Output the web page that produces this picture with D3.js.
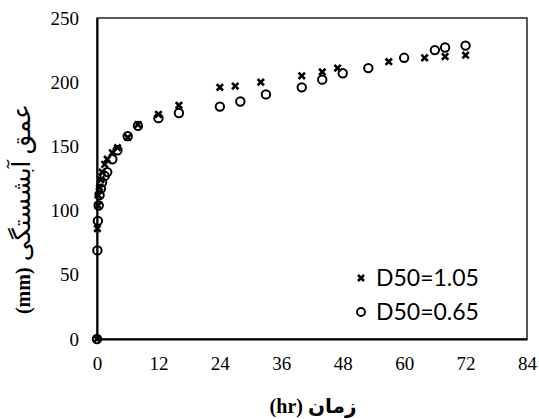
<!DOCTYPE html>
<html>
<head>
<meta charset="utf-8">
<script src="https://cdn.jsdelivr.net/npm/d3@7/dist/d3.min.js"></script>
<style>
  body { margin: 0; background: #fff; }
  svg { display: block; }
</style>
</head>
<body>
<svg id="chart" width="539" height="419"></svg>
<script>
// D50=1.05 (cross markers)
const timeA = [0, 0.08, 0.17, 0.25, 0.5, 0.75, 1, 1.5, 2, 3, 4, 6, 8, 12, 16, 24, 27, 32, 40, 44, 47, 57, 64, 68, 72];
const depthA = [0, 86, 104, 112, 118, 124, 130, 136, 140, 145, 149, 157, 167, 175, 182, 196, 197, 200, 205, 208, 211, 216, 219, 220, 221];
// D50=0.65 (circle markers)
const timeB = [0, 0.08, 0.17, 0.33, 0.5, 0.75, 1, 1.5, 2, 3, 4, 6, 8, 12, 16, 24, 28, 33, 40, 44, 48, 53, 60, 66, 68, 72];
const depthB = [0, 69, 92, 104, 112, 117, 122, 127, 130, 140, 147, 158, 166, 172, 176, 181, 185, 190.5, 196, 202, 207, 211, 219, 225, 227, 228.5];

const xTicks = [0, 12, 24, 36, 48, 60, 72, 84];
const yTicks = [0, 50, 100, 150, 200, 250];
const seriesNames = ["D50=1.05", "D50=0.65"];

const svg = d3.select("#chart");
const m = { left: 97, right: 527, top: 18, bottom: 339 };

const x = d3.scaleLinear().domain([0, 84]).range([m.left, m.right]);
const y = d3.scaleLinear().domain([0, 250]).range([m.bottom, m.top]);

// plot frame
svg.append("rect")
  .attr("x", m.left).attr("y", m.top)
  .attr("width", m.right - m.left).attr("height", m.bottom - m.top)
  .attr("fill", "none").attr("stroke", "#000").attr("stroke-width", 1.3);

// axes (labels only, no tick marks)
const xAxis = svg.append("g").attr("transform", `translate(0,${m.bottom})`)
  .call(d3.axisBottom(x).tickValues(xTicks).tickSize(0).tickPadding(18));
const yAxis = svg.append("g").attr("transform", `translate(${m.left},0)`)
  .call(d3.axisLeft(y).tickValues(yTicks).tickSize(0).tickPadding(18));
[xAxis, yAxis].forEach(g => {
  g.select(".domain").attr("stroke", "#000").attr("stroke-width", 2);
  g.selectAll("text")
    .attr("fill", "#000")
    .style("font-family", "'Liberation Serif', 'Times New Roman', serif")
    .style("font-size", "19px");
});

// cross marker
function cross(g, cx, cy, s) {
  g.append("path")
    .attr("d", `M${cx - s},${cy - s}L${cx + s},${cy + s}M${cx - s},${cy + s}L${cx + s},${cy - s}`)
    .attr("stroke", "#000").attr("stroke-width", 2.6).attr("fill", "none");
}

const marks = svg.append("g");
timeB.forEach((t, i) => {
  marks.append("circle")
    .attr("cx", x(t)).attr("cy", y(depthB[i])).attr("r", 4.2)
    .attr("fill", "none").attr("stroke", "#000").attr("stroke-width", 2);
});
timeA.forEach((t, i) => cross(marks, x(t), y(depthA[i]), 3.2));

// legend
const legend = svg.append("g");
const legY = [278, 312];
cross(legend, 361, legY[0], 3);
legend.append("circle").attr("cx", 361).attr("cy", legY[1]).attr("r", 4)
  .attr("fill", "none").attr("stroke", "#000").attr("stroke-width", 1.8);
seriesNames.forEach((n, i) => {
  legend.append("text")
    .attr("x", 376).attr("y", legY[i]).attr("dy", "0.35em")
    .style("font-family", "Lato, 'Open Sans', sans-serif")
    .style("font-size", "23px")
    .text(n);
});

// axis titles
const xt = svg.append("text")
  .attr("x", 313).attr("y", 413)
  .attr("text-anchor", "middle")
  .attr("direction", "rtl")
  .style("font-family", "'Liberation Serif', 'DejaVu Sans', serif")
  .style("font-size", "20px").style("font-weight", "bold");
xt.text("زمان (hr)");

const yt = svg.append("text")
  .attr("transform", "translate(30,209) rotate(-90)")
  .attr("text-anchor", "middle")
  .attr("direction", "rtl")
  .style("font-family", "'Liberation Serif', 'DejaVu Sans', serif");
yt.append("tspan").style("font-size", "25px").text("عمق آبشستگی ");
yt.append("tspan").style("font-size", "20px").style("font-weight", "bold").text("(mm)");
</script>
</body>
</html>
